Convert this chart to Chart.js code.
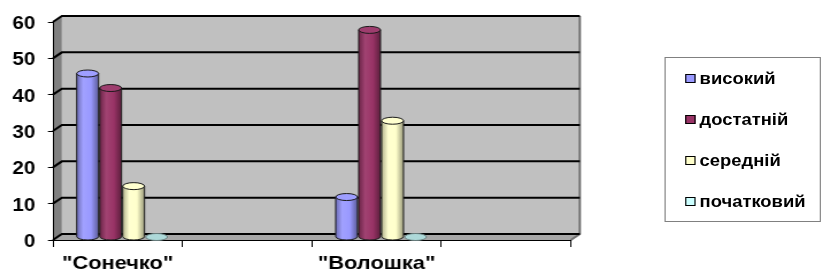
<!DOCTYPE html>
<html>
<head>
<meta charset="utf-8">
<script src="https://cdn.jsdelivr.net/npm/chart.js@4.4.0/dist/chart.umd.min.js"></script>
<style>
  body { margin: 0; background: #fff; overflow: hidden; }
  /* the original picture is stretched horizontally, so the whole stage is too */
  #stage { position: relative; width: 715px; height: 276px; transform: scaleX(1.1497); transform-origin: 0 0; }
  #legend {
    position: absolute; left: 577.5px; top: 57px; width: 136.5px; height: 165px;
    border: 1px solid #808080; box-sizing: border-box;
    font: bold 16px "Liberation Sans", Arial, sans-serif; color: #000;
  }
  #legend .item { display: flex; align-items: center; height: 41px; padding-left: 17px; }
  #legend .sw { width: 7px; height: 7px; border: 1px solid #000; margin-right: 4px; }
</style>
</head>
<body>
<div id="stage">
  <canvas id="myChart" width="715" height="276"></canvas>
  <div id="legend"></div>
</div>
<script>
    "use strict";

    // categories (2nd and 4th slots are empty in the original chart)
    var categories = ['"Сонечко"', '', '"Волошка"', ''];
    var levels = ['високий', 'достатній', 'середній', 'початковий'];

    var vysokyi = [45, null, 11, null];
    var dostatnii = [41, null, 57, null];
    var serednii = [14, null, 32, null];
    var pochatkovyi = [0, null, 0, null];

    var yTicks = [0, 10, 20, 30, 40, 50, 60];
    var seriesColors = ['#9999FF', '#993366', '#FFFFCC', '#CCFFFF'];

    var DX = 7.8, DY = -6;  // depth of the 3d walls

    function shade(hex, f) {
        var n = parseInt(hex.slice(1), 16);
        var r = (n >> 16) & 255, g = (n >> 8) & 255, b = n & 255;
        function c(v) { return Math.max(0, Math.min(255, Math.round(f > 1 ? v + (255 - v) * (f - 1) : v * f))); }
        return 'rgb(' + c(r) + ',' + c(g) + ',' + c(b) + ')';
    }

    /* gray walls + gridlines behind the bars */
    var walls = {
        id: 'walls',
        beforeDraw: function (chart) {
            var ctx = chart.ctx, a = chart.chartArea, y = chart.scales.y;
            ctx.save();
            ctx.fillStyle = '#c0c0c0';
            ctx.fillRect(a.left + DX, a.top + DY, a.width, a.height);

            ctx.fillStyle = '#808080';
            ctx.beginPath();
            ctx.moveTo(a.left, a.top);
            ctx.lineTo(a.left + DX, a.top + DY);
            ctx.lineTo(a.left + DX, a.bottom + DY);
            ctx.lineTo(a.left, a.bottom);
            ctx.closePath();
            ctx.fill();

            ctx.fillStyle = '#a6a6a6';
            ctx.beginPath();
            ctx.moveTo(a.left, a.bottom);
            ctx.lineTo(a.left + DX, a.bottom + DY);
            ctx.lineTo(a.right + DX, a.bottom + DY);
            ctx.lineTo(a.right, a.bottom);
            ctx.closePath();
            ctx.fill();

            // right edge of the back wall
            ctx.strokeStyle = '#707070';
            ctx.lineWidth = 2;
            ctx.beginPath();
            ctx.moveTo(a.right + DX, a.top + DY);
            ctx.lineTo(a.right + DX, a.bottom + DY);
            ctx.lineTo(a.right, a.bottom);
            ctx.stroke();

            ctx.strokeStyle = '#000';
            ctx.lineWidth = 2;
            yTicks.forEach(function (v) {
                var py = y.getPixelForValue(v);
                ctx.beginPath();
                ctx.moveTo(a.left, py);
                ctx.lineTo(a.left + DX, py + DY);
                ctx.lineTo(a.right + DX, py + DY);
                ctx.stroke();
            });
            ctx.restore();
        }
    };

    /* draws every bar as a cylinder */
    var cylinders = {
        id: 'cylinders',
        afterDatasetsDraw: function (chart) {
            var ctx = chart.ctx;
            chart.data.datasets.forEach(function (ds, i) {
                var meta = chart.getDatasetMeta(i);
                var col = seriesColors[i];
                meta.data.forEach(function (bar, j) {
                    if (ds.data[j] == null) return;
                    var p = bar.getProps(['x', 'y', 'base', 'width'], true);
                    var cx = p.x + DX / 2, rx = (p.width - 1) / 2, ry = 3.5;
                    var top = p.y + DY / 2, bot = p.base + DY / 2;
                    ctx.save();
                    ctx.lineWidth = 1;
                    ctx.strokeStyle = '#1a1a1a';
                    if (bot - top > 0.5) {
                        var g = ctx.createLinearGradient(cx - rx, 0, cx + rx, 0);
                        g.addColorStop(0, shade(col, 0.7));
                        g.addColorStop(0.3, shade(col, 1.08));
                        g.addColorStop(0.65, col);
                        g.addColorStop(1, shade(col, 0.6));
                        ctx.fillStyle = g;
                        ctx.beginPath();
                        ctx.moveTo(cx - rx, top);
                        ctx.lineTo(cx - rx, bot);
                        ctx.ellipse(cx, bot, rx, ry, 0, Math.PI, 0, true);
                        ctx.lineTo(cx + rx, top);
                        ctx.closePath();
                        ctx.fill();
                        ctx.stroke();
                    }
                    ctx.fillStyle = bot - top > 0.5 ? shade(col, 1.05) : shade(col, 0.85);
                    ctx.strokeStyle = bot - top > 0.5 ? '#1a1a1a' : '#6a8080';
                    ctx.beginPath();
                    ctx.ellipse(cx, top, rx, ry, 0, 0, Math.PI * 2);
                    ctx.fill();
                    ctx.stroke();
                    ctx.restore();
                });
            });
        }
    };

    var seriesData = [vysokyi, dostatnii, serednii, pochatkovyi];
    var datasets = levels.map(function (name, i) {
        return {
            label: name,
            data: seriesData[i],
            backgroundColor: 'rgba(0,0,0,0)',
            borderWidth: 0,
            categoryPercentage: 0.71,
            barPercentage: 1
        };
    });

    var family = '"Liberation Sans", Arial, sans-serif';

    var ctx = document.getElementById('myChart').getContext('2d');
    var chart = new Chart(ctx, {
        type: 'bar',
        data: { labels: categories, datasets: datasets },
        options: {
            responsive: false,
            animation: false,
            layout: { padding: { left: 0, top: 22, right: 218.5, bottom: 0 } },
            scales: {
                y: {
                    min: 0, max: 60,
                    afterFit: function (s) { s.width = 46; },
                    ticks: { stepSize: 10, color: '#000', font: { family: family, weight: 'bold', size: 18 }, padding: 11, labelOffset: 2 },
                    grid: { drawOnChartArea: false, drawTicks: true, tickLength: 4.3, color: '#000' },
                    border: { display: true, color: '#000', width: 1 }
                },
                x: {
                    afterFit: function (s) { s.height = 36; },
                    ticks: { color: '#000', font: { family: family, weight: 'bold', size: 19 }, padding: 5, maxRotation: 0 },
                    grid: { offset: true, drawOnChartArea: false, drawTicks: true, tickLength: 7, color: '#000' },
                    border: { display: true, color: '#000', width: 1 }
                }
            },
            plugins: {
                legend: { display: false },
                tooltip: { enabled: false }
            }
        },
        plugins: [walls, cylinders]
    });

    // html legend
    var legendEl = document.getElementById('legend');
    levels.forEach(function (name, i) {
        var item = document.createElement('div');
        item.className = 'item';
        var sw = document.createElement('span');
        sw.className = 'sw';
        sw.style.background = seriesColors[i];
        item.appendChild(sw);
        item.appendChild(document.createTextNode(name));
        legendEl.appendChild(item);
    });
</script>
</body>
</html>
